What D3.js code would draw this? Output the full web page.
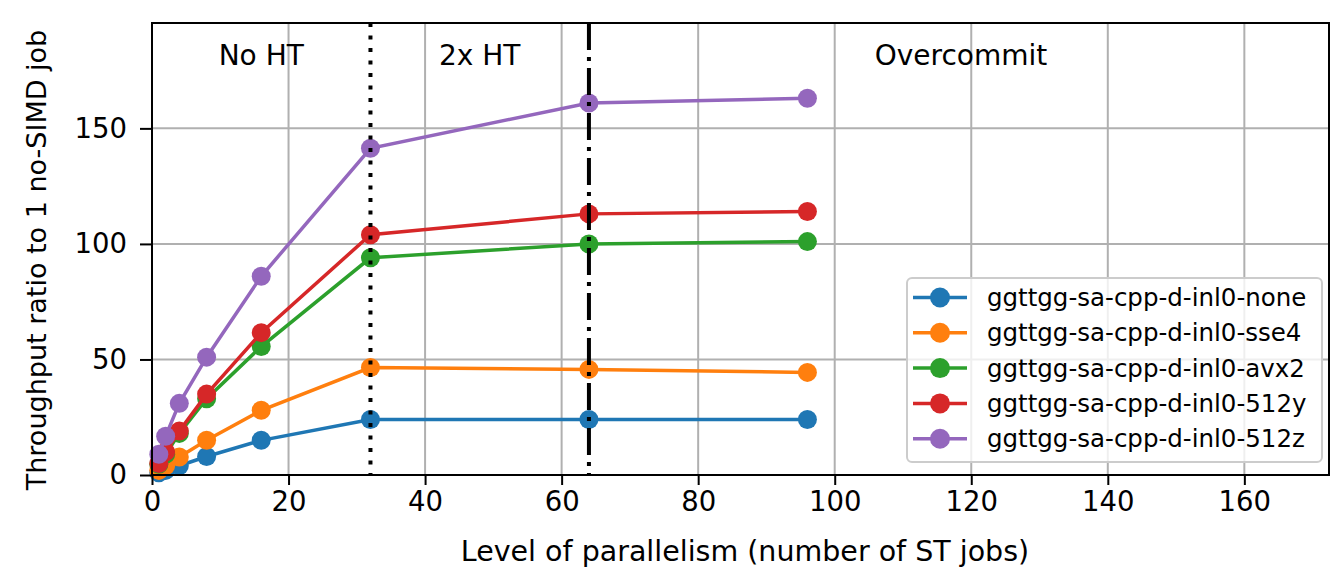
<!DOCTYPE html>
<html>
<head>
<meta charset="utf-8">
<script src="https://cdn.jsdelivr.net/npm/d3@7"></script>
<style>
  body { margin: 0; background: #fff; }
  svg { font-family: "DejaVu Sans", sans-serif; }
</style>
</head>
<body>
<svg id="chart" width="1337" height="570"></svg>
<script>
// parallelism levels (number of ST jobs)
const jobs = [1, 2, 4, 8, 16, 32, 64, 96];

const seriesNames = [
    "ggttgg-sa-cpp-d-inl0-none",
    "ggttgg-sa-cpp-d-inl0-sse4",
    "ggttgg-sa-cpp-d-inl0-avx2",
    "ggttgg-sa-cpp-d-inl0-512y",
    "ggttgg-sa-cpp-d-inl0-512z"
];

const noneVals = [1, 2, 4, 8, 15, 24, 24, 24];
const sse4Vals = [2, 4, 7.8, 15, 28, 46.5, 45.7, 44.4];
const avx2Vals = [4.6, 9, 18, 33, 55.6, 94, 100, 101];
const y512Vals = [5, 10, 19, 35, 61.6, 104, 113, 114];
const z512Vals = [9, 16.8, 31, 51, 86, 141.4, 161, 163];

const colors = ["#1f77b4", "#ff7f0e", "#2ca02c", "#d62728", "#9467bd"];

const xTicks = [0, 20, 40, 60, 80, 100, 120, 140, 160];
const yTicks = [0, 50, 100, 150];

const regionLabels = [
    { text: "No HT", x: 16 },
    { text: "2x HT", x: 48 },
    { text: "Overcommit", x: 118.5 }
];

const allSeries = [noneVals, sse4Vals, avx2Vals, y512Vals, z512Vals];

const svg = d3.select("#chart");
const margin = { left: 152, right: 8, top: 23, bottom: 95 };
const W = 1337, H = 570;

const x = d3.scaleLinear().domain([0, 172.4]).range([margin.left, W - margin.right]);
const y = d3.scaleLinear().domain([0, 195.6]).range([H - margin.bottom, margin.top]);

// grid
const grid = svg.append("g");
grid.selectAll(".gx").data(xTicks).join("line")
    .attr("x1", d => x(d)).attr("x2", d => x(d))
    .attr("y1", y.range()[1]).attr("y2", y.range()[0])
    .attr("stroke", "#b0b0b0").attr("stroke-width", 2);
grid.selectAll(".gy").data(yTicks).join("line")
    .attr("x1", x.range()[0]).attr("x2", x.range()[1])
    .attr("y1", d => y(d)).attr("y2", d => y(d))
    .attr("stroke", "#b0b0b0").attr("stroke-width", 2);

// series
const line = d3.line().x((d, i) => x(jobs[i])).y(d => y(d));
allSeries.forEach((vals, k) => {
    const g = svg.append("g");
    g.append("path").datum(vals)
        .attr("d", line)
        .attr("fill", "none")
        .attr("stroke", colors[k])
        .attr("stroke-width", 3.5);
    g.selectAll("circle").data(vals).join("circle")
        .attr("cx", (d, i) => x(jobs[i]))
        .attr("cy", d => y(d))
        .attr("r", 9.5)
        .attr("fill", colors[k]);
});

// vertical markers (drawn above the series, like the original)
svg.append("line")
    .attr("x1", x(32)).attr("x2", x(32))
    .attr("y1", y.range()[1]).attr("y2", y.range()[0])
    .attr("stroke", "#000").attr("stroke-width", 4)
    .attr("stroke-dasharray", "4,8.5");
svg.append("line")
    .attr("x1", x(64)).attr("x2", x(64))
    .attr("y1", y.range()[1]).attr("y2", y.range()[0])
    .attr("stroke", "#000").attr("stroke-width", 4)
    .attr("stroke-dasharray", "27,7,4,7");

// frame
svg.append("rect")
    .attr("x", x.range()[0]).attr("y", y.range()[1])
    .attr("width", x.range()[1] - x.range()[0])
    .attr("height", y.range()[0] - y.range()[1])
    .attr("fill", "none").attr("stroke", "#000").attr("stroke-width", 2);

// axes
const xAxis = svg.append("g")
    .attr("transform", `translate(0,${y.range()[0]})`)
    .call(d3.axisBottom(x).tickValues(xTicks).tickSize(10).tickPadding(6));
const yAxis = svg.append("g")
    .attr("transform", `translate(${x.range()[0]},0)`)
    .call(d3.axisLeft(y).tickValues(yTicks).tickSize(12).tickPadding(13));
[xAxis, yAxis].forEach(a => {
    a.select(".domain").remove();
    a.selectAll(".tick line").attr("stroke-width", 2);
    a.selectAll(".tick text")
        .attr("font-family", "DejaVu Sans")
        .attr("font-size", 27.5)
        .attr("fill", "#000");
});

// axis labels
svg.append("text")
    .attr("x", 745)
    .attr("y", 561)
    .attr("text-anchor", "middle")
    .attr("font-size", 28.5)
    .text("Level of parallelism (number of ST jobs)");
svg.append("text")
    .attr("transform", "translate(46,260) rotate(-90)")
    .attr("text-anchor", "middle")
    .attr("font-size", 27)
    .text("Throughput ratio to 1 no-SIMD job");

// region labels
svg.selectAll(".region").data(regionLabels).join("text")
    .attr("x", d => x(d.x))
    .attr("y", 65)
    .attr("text-anchor", "middle")
    .attr("font-size", 28)
    .text(d => d.text);

// legend
const lg = svg.append("g").attr("transform", "translate(907,278)");
lg.append("rect")
    .attr("width", 415).attr("height", 184)
    .attr("rx", 5)
    .attr("fill", "#fff").attr("fill-opacity", 0.8)
    .attr("stroke", "#ccc").attr("stroke-width", 2);
seriesNames.forEach((name, i) => {
    const yy = 19.5 + i * 35.3;
    lg.append("line")
        .attr("x1", 6).attr("x2", 60)
        .attr("y1", yy).attr("y2", yy)
        .attr("stroke", colors[i]).attr("stroke-width", 3.5);
    lg.append("circle")
        .attr("cx", 33).attr("cy", yy).attr("r", 10)
        .attr("fill", colors[i]);
    lg.append("text")
        .attr("x", 80).attr("y", yy + 8.5)
        .attr("font-size", 24.5)
        .attr("fill", "#000")
        .text(name);
});
</script>
</body>
</html>
